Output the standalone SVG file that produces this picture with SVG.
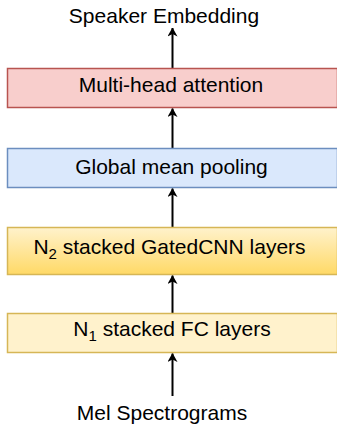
<svg xmlns="http://www.w3.org/2000/svg" width="337" height="426" viewBox="0 0 337 426">
<style>
text{font-family:"Liberation Sans",Arial,sans-serif;font-size:21px;fill:#000;text-anchor:middle}
.box{stroke-width:1.5}
.conn line{stroke:#000;stroke-width:2;fill:none}
</style>
<defs>
<linearGradient id="gold" x1="0" y1="0" x2="0" y2="1">
<stop offset="0" stop-color="#fff2cc"/>
<stop offset="1" stop-color="#ffd966"/>
</linearGradient>
<marker id="arr" viewBox="0 0 9 10" refX="8.5" refY="5" markerWidth="9" markerHeight="10" markerUnits="userSpaceOnUse" orient="auto">
<path d="M0,0 L9,5 L0,10 L2.5,5 Z" fill="#000"/>
</marker>
</defs>
<rect width="337" height="426" fill="#fff"/>
<g class="conn">
<line x1="172.5" y1="68.5" x2="172.5" y2="28" marker-end="url(#arr)"/>
<line x1="172.5" y1="148.5" x2="172.5" y2="108.5" marker-end="url(#arr)"/>
<line x1="172.5" y1="227.5" x2="172.5" y2="188.5" marker-end="url(#arr)"/>
<line x1="172.5" y1="313.5" x2="172.5" y2="275.5" marker-end="url(#arr)"/>
<line x1="172.5" y1="396" x2="172.5" y2="353.5" marker-end="url(#arr)"/>
</g>
<g id="out"><text x="164" y="22.5">Speaker Embedding</text></g>
<g id="mha">
<rect class="box" x="7.5" y="68.5" width="330" height="39" fill="#f8cecc" stroke="#b85450"/>
<text x="171" y="92">Multi-head attention</text>
</g>
<g id="gmp">
<rect class="box" x="7.5" y="148.5" width="330" height="39" fill="#dae8fc" stroke="#6c8ebf"/>
<text x="171.5" y="173.5">Global mean pooling</text>
</g>
<g id="gcnn">
<rect class="box" x="7.5" y="227.5" width="330" height="47" fill="url(#gold)" stroke="#d6b656"/>
<text x="169.5" y="254">N<tspan font-size="15" dy="5">2</tspan><tspan dy="-5"> stacked GatedCNN layers</tspan></text>
</g>
<g id="fc">
<rect class="box" x="7.5" y="313.5" width="330" height="39" fill="#fff2cc" stroke="#d6b656"/>
<text x="172" y="336">N<tspan font-size="15" dy="5">1</tspan><tspan dy="-5"> stacked FC layers</tspan></text>
</g>
<g id="in"><text x="162" y="420">Mel Spectrograms</text></g>
</svg>
